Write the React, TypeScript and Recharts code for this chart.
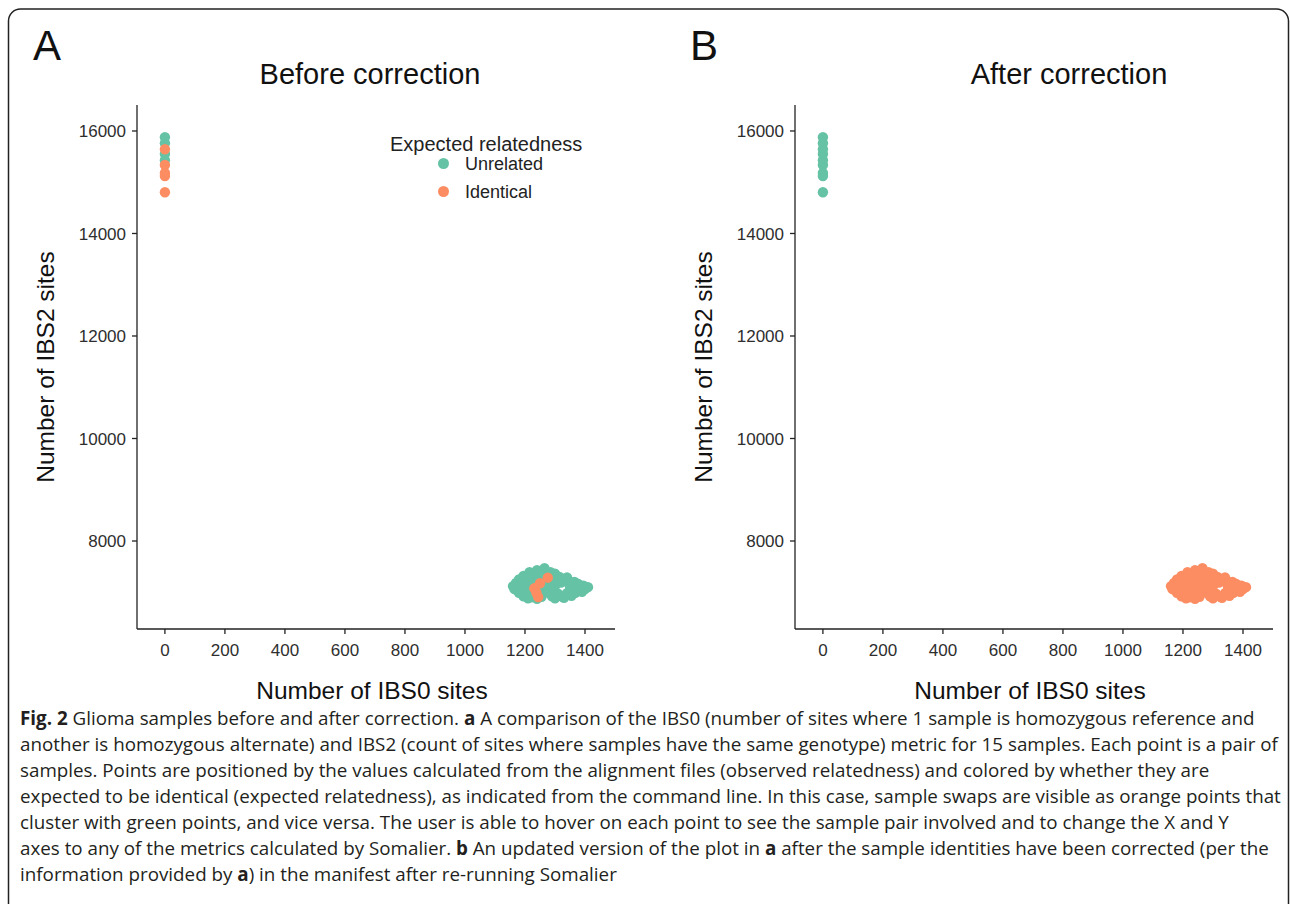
import React from 'react';
import { ScatterChart, Scatter, XAxis, YAxis, Legend, Label } from 'recharts';

const GREEN = '#66C2A5';
const ORANGE = '#FC8D62';
const FONT = "'Liberation Sans', Arial, Helvetica, sans-serif";
const CAPTION_FONT = "'Open Sans', 'Noto Sans', sans-serif";

const categories = ['Unrelated', 'Identical'];
const xTicks = [0, 200, 400, 600, 800, 1000, 1200, 1400];
const yTicks = [8000, 10000, 12000, 14000, 16000];

// pairs sitting at IBS0 ~ 0 (panel a colours)
const nearZeroUnrelated = [
  { x: 0, y: 15877 }, { x: 0, y: 15760 }, { x: 0, y: 15550 }, { x: 0, y: 15430 },
];
const nearZeroIdentical = [
  { x: 0, y: 15643 }, { x: 0, y: 15337 }, { x: 0, y: 15180 }, { x: 0, y: 15122 }, { x: 0, y: 14804 },
];

// the big cluster around IBS0 ~ 1150-1420 (panel a colours)
const clusterUnrelated = [
  { x: 1265, y: 7470 }, { x: 1240, y: 7430 },
  { x: 1215, y: 7390 }, { x: 1255, y: 7400 }, { x: 1285, y: 7390 }, { x: 1300, y: 7360 },
  { x: 1195, y: 7320 }, { x: 1225, y: 7340 }, { x: 1250, y: 7330 }, { x: 1290, y: 7320 }, { x: 1315, y: 7300 }, { x: 1340, y: 7290 },
  { x: 1180, y: 7250 }, { x: 1205, y: 7260 }, { x: 1235, y: 7250 }, { x: 1275, y: 7250 }, { x: 1300, y: 7240 }, { x: 1345, y: 7230 }, { x: 1365, y: 7200 },
  { x: 1170, y: 7180 }, { x: 1195, y: 7190 }, { x: 1220, y: 7180 }, { x: 1260, y: 7200 }, { x: 1290, y: 7180 }, { x: 1320, y: 7190 }, { x: 1350, y: 7170 }, { x: 1378, y: 7160 }, { x: 1395, y: 7130 },
  { x: 1160, y: 7120 }, { x: 1185, y: 7110 }, { x: 1210, y: 7120 }, { x: 1240, y: 7130 }, { x: 1275, y: 7110 }, { x: 1300, y: 7120 }, { x: 1350, y: 7110 }, { x: 1380, y: 7100 }, { x: 1410, y: 7100 },
  { x: 1165, y: 7060 }, { x: 1195, y: 7040 }, { x: 1225, y: 7050 }, { x: 1260, y: 7040 }, { x: 1295, y: 7050 }, { x: 1350, y: 7050 }, { x: 1375, y: 7040 }, { x: 1400, y: 7060 },
  { x: 1180, y: 6990 }, { x: 1210, y: 6970 }, { x: 1245, y: 6980 }, { x: 1280, y: 6990 }, { x: 1310, y: 6970 }, { x: 1340, y: 6980 }, { x: 1368, y: 6990 }, { x: 1390, y: 7010 },
  { x: 1195, y: 6920 }, { x: 1220, y: 6900 }, { x: 1255, y: 6910 }, { x: 1290, y: 6920 }, { x: 1325, y: 6910 }, { x: 1355, y: 6930 },
  { x: 1210, y: 6880 }, { x: 1240, y: 6870 }, { x: 1300, y: 6880 }, { x: 1330, y: 6890 },
];
const clusterIdentical = [
  { x: 1276, y: 7284 }, { x: 1250, y: 7175 }, { x: 1231, y: 7077 }, { x: 1238, y: 6990 }, { x: 1244, y: 6905 },
];

const captionLines: { text: string; bold?: boolean }[][] = [
  [{ text: 'Fig. 2', bold: true }, { text: ' Glioma samples before and after correction. ' }, { text: 'a', bold: true }, { text: ' A comparison of the IBS0 (number of sites where 1 sample is homozygous reference and' }],
  [{ text: 'another is homozygous alternate) and IBS2 (count of sites where samples have the same genotype) metric for 15 samples. Each point is a pair of' }],
  [{ text: 'samples. Points are positioned by the values calculated from the alignment files (observed relatedness) and colored by whether they are' }],
  [{ text: 'expected to be identical (expected relatedness), as indicated from the command line. In this case, sample swaps are visible as orange points that' }],
  [{ text: 'cluster with green points, and vice versa. The user is able to hover on each point to see the sample pair involved and to change the X and Y' }],
  [{ text: 'axes to any of the metrics calculated by Somalier. ' }, { text: 'b', bold: true }, { text: ' An updated version of the plot in ' }, { text: 'a', bold: true }, { text: ' after the sample identities have been corrected (per the' }],
  [{ text: 'information provided by ' }, { text: 'a', bold: true }, { text: ') in the manifest after re-running Somalier' }],
];

const dot = (color: string) => (props: any) => (
  <circle cx={props.cx} cy={props.cy} r={5.2} fill={color} />
);

const tickStyle = { fontSize: 17, fill: '#2e2e2e', fontFamily: FONT };
const axisLine = { stroke: '#222', strokeWidth: 1.3 };

const renderLegend = (props: any) => {
  const items = [...(props.payload || [])].sort(
    (a: any, b: any) => categories.indexOf(a.value) - categories.indexOf(b.value)
  );
  return (
    <div style={{ position: 'relative', width: 230, height: 90, fontFamily: FONT, color: '#222' }}>
      <div style={{ position: 'absolute', left: 10, top: 14, fontSize: 20, lineHeight: '20px', whiteSpace: 'nowrap' }}>
        Expected relatedness
      </div>
      {items.map((p: any, i: number) => (
        <React.Fragment key={p.value}>
          <span style={{ position: 'absolute', left: 58, top: 38 + 28 * i, width: 11, height: 11, borderRadius: 6, background: p.color }} />
          <span style={{ position: 'absolute', left: 85, top: 34 + 28 * i, fontSize: 18, lineHeight: '20px', whiteSpace: 'nowrap' }}>{p.value}</span>
        </React.Fragment>
      ))}
    </div>
  );
};

const yTitle = (props: any) => {
  const { x, y, height } = props.viewBox;
  const cx = x + 54;
  const cy = y + height / 2;
  return (
    <text x={cx} y={cy} transform={`rotate(-90 ${cx} ${cy})`} textAnchor="middle" fontSize={24.5} fontFamily={FONT} fill="#111">
      Number of IBS2 sites
    </text>
  );
};

const xTitle = (props: any) => {
  const { x, y } = props.viewBox;
  return (
    <text x={x + 235} y={y + 70} textAnchor="middle" fontSize={24.5} fontFamily={FONT} fill="#111">
      Number of IBS0 sites
    </text>
  );
};

interface PanelProps {
  series: { name: string; color: string; data: { x: number; y: number }[] }[];
  showLegend?: boolean;
}

const Panel: React.FC<PanelProps> = ({ series, showLegend }) => (
  <ScatterChart width={640} height={720} margin={{ top: 105, right: 25, bottom: 20, left: 0 }}>
    <XAxis
      type="number"
      dataKey="x"
      domain={[-93, 1500]}
      allowDataOverflow
      ticks={xTicks}
      height={71}
      tickSize={5}
      tickMargin={10}
      tick={tickStyle}
      axisLine={axisLine}
      tickLine={axisLine}
    >
      <Label content={xTitle} />
    </XAxis>
    <YAxis
      type="number"
      dataKey="y"
      domain={[6283, 16507]}
      allowDataOverflow
      ticks={yTicks}
      width={137}
      tickSize={5}
      tickMargin={6}
      tick={tickStyle}
      axisLine={axisLine}
      tickLine={axisLine}
    >
      <Label content={yTitle} />
    </YAxis>
    {showLegend && (
      <Legend
        layout="vertical"
        align="center"
        verticalAlign="middle"
        wrapperStyle={{ top: 120, left: 380, width: 230, height: 90 }}
        content={renderLegend}
      />
    )}
    {series.map((s) => (
      <Scatter key={s.name} name={s.name} data={s.data} fill={s.color} shape={dot(s.color)} isAnimationActive={false} />
    ))}
  </ScatterChart>
);

const seriesA = [
  { name: 'Unrelated', color: GREEN, data: [...nearZeroUnrelated, ...clusterUnrelated] },
  { name: 'Identical', color: ORANGE, data: [...nearZeroIdentical, ...clusterIdentical] },
];

const seriesB = [
  { name: 'Unrelated', color: GREEN, data: [...nearZeroUnrelated, ...nearZeroIdentical] },
  { name: 'Identical', color: ORANGE, data: [...clusterUnrelated, ...clusterIdentical] },
];

export default function App() {
  return (
    <div style={{ position: 'absolute', left: 0, top: 0, width: 1290, height: 904, overflow: 'hidden', background: '#fff' }}>
      <svg width={1290} height={904} style={{ position: 'absolute', left: 0, top: 0 }}>
        <rect x={8.5} y={9} width={1280} height={940} rx={12} fill="none" stroke="#222" strokeWidth={1.5} />
        <text x={33} y={60} fontSize={42} fontFamily={FONT} fill="#111">A</text>
        <text x={690} y={60} fontSize={42} fontFamily={FONT} fill="#111">B</text>
        <text x={370} y={84} textAnchor="middle" fontSize={29} fontFamily={FONT} fill="#111">Before correction</text>
        <text x={1069} y={84} textAnchor="middle" fontSize={29} fontFamily={FONT} fill="#111">After correction</text>
        {captionLines.map((parts, i) => (
          <text key={i} x={20} y={725 + 26 * i} fontSize={18.8} fontFamily={CAPTION_FONT} fill="#231f20" style={{ whiteSpace: 'pre' }}>
            {parts.map((p, j) => (
              <tspan key={j} fontWeight={p.bold ? 700 : 400}>{p.text}</tspan>
            ))}
          </text>
        ))}
      </svg>
      <div style={{ position: 'absolute', left: 0, top: 0 }}>
        <Panel series={seriesA} showLegend />
      </div>
      <div style={{ position: 'absolute', left: 658, top: 0 }}>
        <Panel series={seriesB} />
      </div>
    </div>
  );
}
